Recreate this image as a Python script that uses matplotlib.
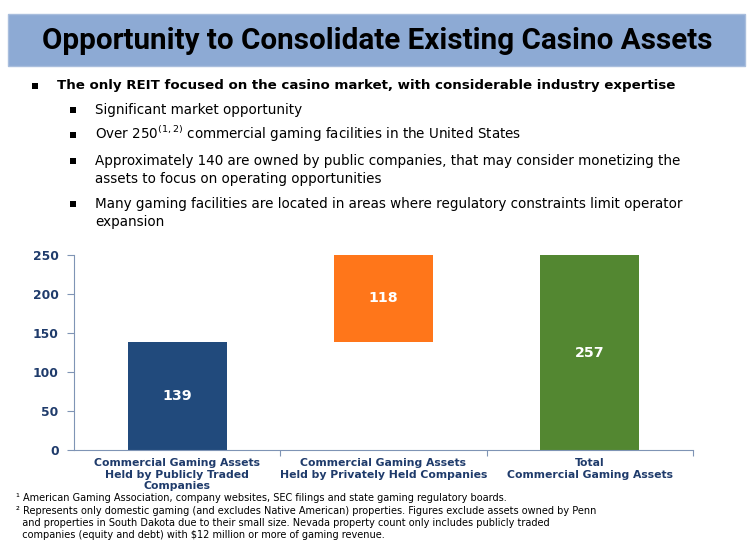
import numpy as np
import matplotlib.pyplot as plt
from matplotlib.patches import Rectangle

# chart data
categories = ['Commercial Gaming Assets\nHeld by Publicly Traded\nCompanies',
              'Commercial Gaming Assets\nHeld by Privately Held Companies',
              'Total\nCommercial Gaming Assets']
bar_bottoms = [0, 139, 0]
bar_values = [139, 118, 257]
bar_colors = ['#214A7C', '#FF761A', '#538731']
y_ticks = [0, 50, 100, 150, 200, 250]

title = 'Opportunity to Consolidate Existing Casino Assets'
main_bullet = 'The only REIT focused on the casino market, with considerable industry expertise'
sub_bullets = [
    'Significant market opportunity',
    'Over 250$^{(1,2)}$ commercial gaming facilities in the United States',
    'Approximately 140 are owned by public companies, that may consider monetizing the\nassets to focus on operating opportunities',
    'Many gaming facilities are located in areas where regulatory constraints limit operator\nexpansion',
]
footnotes = [
    '\u00b9 American Gaming Association, company websites, SEC filings and state gaming regulatory boards.',
    '\u00b2 Represents only domestic gaming (and excludes Native American) properties. Figures exclude assets owned by Penn\n'
    '  and properties in South Dakota due to their small size. Nevada property count only includes publicly traded\n'
    '  companies (equity and debt) with $12 million or more of gaming revenue.',
]

W, H = 750, 547
fig = plt.figure(figsize=(W / 100, H / 100), dpi=100)
fig.patch.set_facecolor('white')


def px(x, y):
    return x / W, 1 - y / H


# title banner
fig.add_artist(Rectangle(px(8, 66), 737 / W, 52 / H, transform=fig.transFigure,
                         facecolor='#8DAAD4', edgecolor='#A9BEDD', lw=1))
fig.text(*px(377, 41), title, ha='center', va='center', fontsize=21.3,
         fontweight='bold', color='black', family=['Roboto', 'DejaVu Sans'])

# bullets
fig.add_artist(Rectangle(px(32, 89), 6 / W, 6 / H, transform=fig.transFigure,
                         facecolor='black', edgecolor='none'))
fig.text(*px(57, 89), main_bullet, ha='left', va='baseline', fontsize=9.65,
         fontweight='bold', color='black')
sub_base = [114, 139, 165, 208]
for t, yy in zip(sub_bullets, sub_base):
    fig.add_artist(Rectangle(px(70, yy - 1), 6 / W, 6 / H, transform=fig.transFigure,
                             facecolor='black', edgecolor='none'))
    first, *rest = t.split('\n')
    fig.text(*px(95, yy), first, ha='left', va='baseline', fontsize=9.75, color='black')
    for k, line in enumerate(rest):
        fig.text(*px(95, yy + 18 * (k + 1)), line, ha='left', va='baseline',
                 fontsize=9.75, color='black')

# chart
ax = fig.add_axes([74 / W, 1 - 450 / H, 619 / W, 195 / H])
x = np.arange(len(categories))
bars = ax.bar(x, bar_values, bottom=bar_bottoms, width=0.48, color=bar_colors,
              edgecolor='none', zorder=2)
ax.set_xlim(-0.5, 2.5)
ax.set_ylim(0, 250)
for xi, b, v in zip(x, bar_bottoms, bar_values):
    top = min(b + v, 250)
    ax.text(xi, (b + top) / 2, str(v), ha='center', va='center', color='white',
            fontsize=10.2, fontweight='bold', zorder=3)

navy = '#1F3B6B'
spine_c = '#7F94B5'
for s in ['top', 'right']:
    ax.spines[s].set_visible(False)
ax.spines['left'].set_color(spine_c)
ax.spines['bottom'].set_color(spine_c)
ax.set_yticks(y_ticks)
ax.set_yticklabels([str(t) for t in y_ticks], fontsize=8.8, fontweight='bold', color=navy)
ax.tick_params(axis='y', colors=spine_c, length=5, labelcolor=navy, pad=6)
ax.set_xticks([0.5, 1.5, 2.5])
ax.set_xticklabels(['', '', ''])
ax.tick_params(axis='x', colors=spine_c, length=4)
ax.set_xticks(x, minor=True)
ax.set_xticklabels(categories, minor=True, fontsize=7.8, fontweight='bold',
                   color=navy, linespacing=1.15)
ax.tick_params(axis='x', which='minor', length=0, pad=6)

# footnotes
fig.text(*px(16, 493), footnotes[0], ha='left', va='top', fontsize=7.0, color='black')
fig.text(*px(16, 506), footnotes[1], ha='left', va='top', fontsize=7.0,
         color='black', linespacing=1.22)

fig.savefig('out.png', dpi=100)
